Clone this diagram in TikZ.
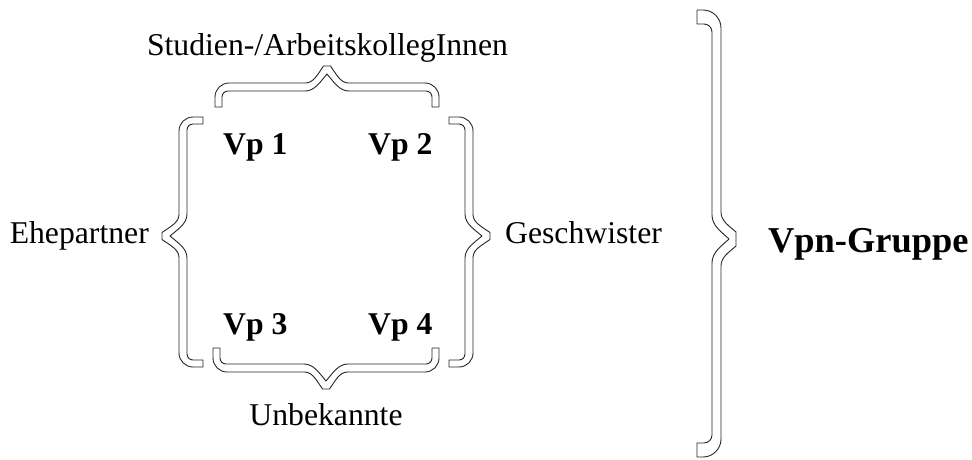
\documentclass[tikz,border=0pt]{standalone}
\usepackage{fontspec}
\setmainfont{Liberation Serif}
\newcommand\bracebig{\def\bD{39}\def\bo{24}\def\bi{15}\def\ba{32}\def\bh{7}\def\bc{14}\def\bR{18}\def\bRi{8}\def\bs{20}\def\bsi{24}}
\newcommand\bracesmall{\def\bD{41}\def\bo{24}\def\bi{16}\def\ba{33}\def\bh{3.5}\def\bc{7}\def\bR{14}\def\bRi{6}\def\bs{18}\def\bsi{22}}
% #1 scope options, #2 length on local +y side, #3 length on local -y side
\newcommand\obrace[3]{%
\begin{scope}[#1]
\draw[bracestyle] (0,#2) -- ({\bo-\bR},#2) .. controls ({\bo-0.45*\bR},#2) and (\bo,{#2-0.45*\bR}) .. (\bo,{#2-\bR})
 -- (\bo,{\bh+\bs}) .. controls (\bo,{\bh+0.55*\bs}) and ({\bo+0.55*(\bD-\bo)},{\bh+0.3*\bs}) .. (\bD,\bh)
 -- (\bD,-\bh) .. controls ({\bo+0.55*(\bD-\bo)},{-\bh-0.3*\bs}) and (\bo,{-\bh-0.55*\bs}) .. (\bo,{-\bh-\bs})
 -- (\bo,{-#3+\bR}) .. controls (\bo,{-#3+0.45*\bR}) and ({\bo-0.45*\bR},-#3) .. ({\bo-\bR},-#3)
 -- (0,-#3) -- (0,{-#3+\bc})
 -- ({\bi-\bRi},{-#3+\bc}) .. controls ({\bi-0.45*\bRi},{-#3+\bc}) and (\bi,{-#3+\bc+0.45*\bRi}) .. (\bi,{-#3+\bc+\bRi})
 -- (\bi,-\bsi) .. controls (\bi,{-0.55*\bsi}) and ({\bi+0.55*(\ba-\bi)},{-0.3*\bsi}) .. (\ba,0)
 .. controls ({\bi+0.55*(\ba-\bi)},{0.3*\bsi}) and (\bi,{0.55*\bsi}) .. (\bi,\bsi)
 -- (\bi,{#2-\bc-\bRi}) .. controls (\bi,{#2-\bc-0.45*\bRi}) and ({\bi-0.45*\bRi},{#2-\bc}) .. ({\bi-\bRi},{#2-\bc})
 -- (0,{#2-\bc}) -- cycle;
\end{scope}}
\begin{document}
\begin{tikzpicture}[x=1pt,y=-1pt,
  bracestyle/.style={draw=black!85,line width=0.9pt,fill=white,line join=round},
  lbl/.style={inner sep=0pt,font=\fontsize{31.7}{38}\selectfont},
  vp/.style={inner sep=0pt,font=\fontsize{31.7}{38}\selectfont\bfseries},
  grp/.style={inner sep=0pt,font=\fontsize{36.4}{44}\selectfont\bfseries}]
\useasboundingbox[fill=white] (0,0) rectangle (972,459);
\bracesmall
% top brace (tip up), bottom brace (tip down)
\obrace{shift={(327,107)},rotate=90}{112}{112}
\obrace{shift={(326,348)},rotate=-90}{113}{113}
% left brace: local +y is page up
\obrace{shift={(203,236)},rotate=180}{119}{131}
% right brace: local +y is page down
\obrace{shift={(449,236)}}{131}{119}
\bracebig
\obrace{shift={(697,239)}}{218}{229}
\node[lbl,anchor=base] (top) at (327.5,55) {Studien-/ArbeitskollegInnen};
\node[lbl,anchor=base east] (left) at (149,243) {Ehepartner};
\node[lbl,anchor=base west] (right) at (505,243) {Geschwister};
\node[lbl,anchor=base] (bottom) at (326,425) {Unbekannte};
\node[grp,anchor=base west] (grp) at (768,252) {Vpn-Gruppe};
\node[vp,anchor=base west] (vp1) at (223,154) {Vp 1};
\node[vp,anchor=base west] (vp2) at (368,154) {Vp 2};
\node[vp,anchor=base west] (vp3) at (223,334) {Vp 3};
\node[vp,anchor=base west] (vp4) at (368,334) {Vp 4};
\end{tikzpicture}
\end{document}
